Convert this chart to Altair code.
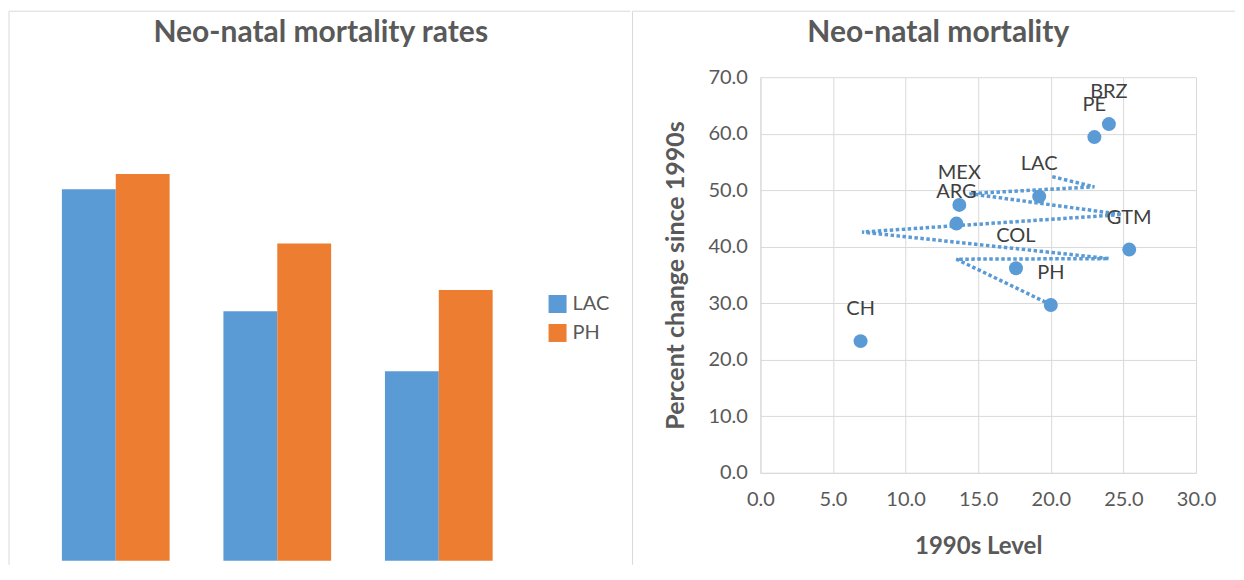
import altair as alt
import pandas as pd

# ---------------- data ----------------
periods = ["1990s", "2000s", "2010s"]
series = ["LAC", "PH"]
lac_rates = [19.2, 12.9, 9.8]
ph_rates = [20.0, 16.4, 14.0]

countries = ["BRZ", "PE", "LAC", "MEX", "ARG", "GTM", "COL", "PH", "CH"]
level_1990s = [24.0, 23.0, 19.2, 13.7, 13.5, 25.4, 17.6, 20.0, 6.9]
pct_change = [61.7, 59.4, 48.9, 47.4, 44.1, 39.5, 36.2, 29.7, 23.3]

# dotted connector path (drawn in data units)
path_level = [20.1, 23.0, 14.4, 24.9, 7.0, 24.0, 13.5, 19.8]
path_change = [52.4, 50.6, 49.4, 45.7, 42.6, 37.9, 37.8, 30.0]

x_ticks = [0, 5, 10, 15, 20, 25, 30]
y_ticks = [0, 10, 20, 30, 40, 50, 60, 70]

left_title = ["Neo-natal mortality rates"]
right_title = ["Neo-natal mortality"]
x_title = "1990s Level"
y_title = "Percent change since 1990s"

# ---------------- style ----------------
FONT = "Lato"
BLUE = "#5B9BD5"
ORANGE = "#ED7D31"
GRID = "#D9D9D9"
FRAME = "#D9D9D9"
TEXT = "#595959"
LABEL = "#404040"

bars_df = pd.DataFrame({
    "period": periods * 2,
    "series": ["LAC"] * len(periods) + ["PH"] * len(periods),
    "rate": lac_rates + ph_rates,
})
pts_df = pd.DataFrame({"country": countries, "level": level_1990s, "change": pct_change})
path_df = pd.DataFrame({"step": list(range(len(path_level))), "level": path_level, "change": path_change})
one = pd.DataFrame({"k": [0]})


def frame(x_left, x_right, y_top, y_bottom):
    top = alt.Chart(one).mark_rule(color=FRAME, strokeWidth=1).encode(
        x=alt.value(x_left), x2=alt.value(x_right), y=alt.value(y_top))
    left = alt.Chart(one).mark_rule(color=FRAME, strokeWidth=1).encode(
        x=alt.value(x_left), y=alt.value(y_top), y2=alt.value(y_bottom))
    return [top, left]


def title_mark(txt, cx, cy):
    return alt.Chart(pd.DataFrame({"t": txt})).mark_text(
        font=FONT, fontSize=30, fontWeight="bold", color=TEXT,
        align="center", baseline="middle"
    ).encode(text="t:N", x=alt.value(cx), y=alt.value(cy))


# ---------------- left: grouped bars ----------------
bars = alt.Chart(bars_df).mark_bar().encode(
    x=alt.X("period:N", sort=periods, axis=None,
            scale=alt.Scale(paddingInner=0.333, paddingOuter=0.1667)),
    xOffset=alt.XOffset("series:N", sort=series,
                        scale=alt.Scale(paddingInner=0, paddingOuter=0)),
    y=alt.Y("rate:Q", axis=None, scale=alt.Scale(domain=[0, 25], nice=False)),
    color=alt.Color("series:N", sort=series,
                    scale=alt.Scale(domain=series, range=[BLUE, ORANGE]),
                    legend=alt.Legend(orient="none", legendX=513, legendY=217,
                                      title=None, symbolType="square",
                                      symbolSize=324, symbolStrokeWidth=0,
                                      labelFont=FONT, labelFontSize=20,
                                      labelColor=TEXT, rowPadding=9,
                                      labelOffset=5, padding=0)),
)

left = alt.layer(
    *frame(-26, 596, -66, 488),
    title_mark(left_title, 286, -44),
    bars,
).properties(width=485, height=484)

# ---------------- right: scatter ----------------
x_axis = alt.Axis(values=x_ticks, format=".1f", title=x_title, grid=True,
                  gridColor=GRID, domainColor=GRID, ticks=False,
                  labelFont=FONT, labelFontSize=20, labelColor=TEXT,
                  labelPadding=17, labelFlush=False,
                  titleFont=FONT, titleFontSize=24, titleFontWeight="bold",
                  titleColor=TEXT, titleX=218, titleY=74,
                  titleBaseline="middle", titleAlign="center")
y_axis = alt.Axis(values=y_ticks, format=".1f", title=y_title, grid=True,
                  gridColor=GRID, domainColor=GRID, ticks=False,
                  labelFont=FONT, labelFontSize=20, labelColor=TEXT,
                  labelPadding=13, labelFlush=False,
                  titleFont=FONT, titleFontSize=25, titleFontWeight="bold",
                  titleColor=TEXT, titleX=-85, titleY=198,
                  titleBaseline="middle", titleAlign="center")

xs = alt.Scale(domain=[0, 30], nice=False)
ys = alt.Scale(domain=[0, 70], nice=False)

path = alt.Chart(path_df).mark_line(
    color=BLUE, strokeWidth=3.5, strokeDash=[3.5, 2.5], strokeCap="butt"
).encode(
    x=alt.X("level:Q", scale=xs, axis=x_axis),
    y=alt.Y("change:Q", scale=ys, axis=y_axis),
    order=alt.Order("step:Q"),
)

points = alt.Chart(pts_df).mark_point(
    filled=True, size=195, color=BLUE, opacity=1
).encode(
    x=alt.X("level:Q", scale=xs, axis=x_axis),
    y=alt.Y("change:Q", scale=ys, axis=y_axis),
)

labels = alt.Chart(pts_df).mark_text(
    font=FONT, fontSize=20, color=LABEL, dy=-32, align="center", baseline="middle"
).encode(
    x=alt.X("level:Q", scale=xs, axis=x_axis),
    y=alt.Y("change:Q", scale=ys, axis=y_axis),
    text="country:N",
)

right = alt.layer(
    *frame(-128, 475, -66, 488),
    title_mark(right_title, 178, -44),
    path, points, labels,
).properties(width=436, height=396)

chart = alt.hconcat(left, right, spacing=0).properties(
    padding={"left": 0, "top": 2, "right": 0, "bottom": 0}
).configure_view(stroke=None)

chart.save("out.html", embed_options={"renderer": "svg", "actions": False})
